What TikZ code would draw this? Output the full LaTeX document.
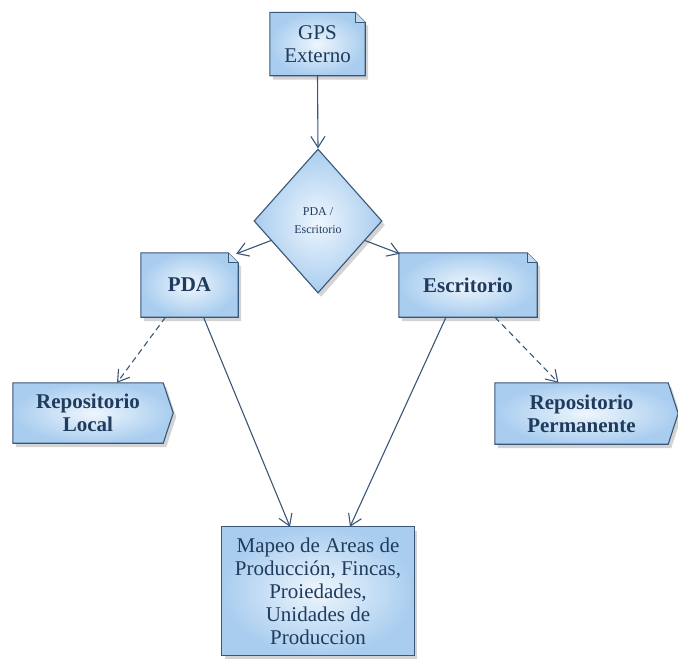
\documentclass[tikz,border=0pt]{standalone}
\usepackage{fontspec}
\setmainfont{Liberation Serif}
\usetikzlibrary{shapes.geometric,shadows,arrows.meta,calc,backgrounds}
\definecolor{edgeblue}{HTML}{3A5677}
\definecolor{textblue}{HTML}{1F3B5E}
\definecolor{fillout}{HTML}{A9CDEF}
\definecolor{fillin}{HTML}{EEF6FD}
\tikzset{
  shadebox/.style={draw=edgeblue, line width=1.1pt, inner color=fillin, outer color=fillout,
    drop shadow={shadow xshift=3pt, shadow yshift=-4pt, opacity=0.35, fill=gray}},
  txtnode/.style={draw=none, fill=none, inner sep=0pt, align=center, text=textblue},
  regtext/.style={font=\fontsize{21}{23}\selectfont},
  boldtext/.style={font=\fontsize{21}{23}\selectfont\bfseries},
  conn/.style={draw=edgeblue, line width=1.1pt, -{Straight Barb[length=11pt,width=14pt]}},
  dconn/.style={conn, dashed, dash pattern=on 6pt off 4pt}
}
\begin{document}
\begin{tikzpicture}[x=1pt,y=-1pt]
\useasboundingbox (0,0) rectangle (678,659);

% text nodes (named)
\node[txtnode, regtext, minimum width=95pt, minimum height=63pt] (gps) at (317.5,44) {GPS\\Externo};
\node[diamond, shadebox, minimum width=128pt, minimum height=144pt, inner sep=0pt, align=center,
  text=textblue, font=\fontsize{12}{18}\selectfont] (dia) at (318,221) {PDA /\\Escritorio};
\node[txtnode, boldtext, minimum width=97pt, minimum height=64pt] (pda) at (189.5,285) {PDA};
\node[txtnode, boldtext, minimum width=138pt, minimum height=64pt] (esc) at (468,285) {Escritorio};
\node[txtnode, boldtext, minimum width=150pt, minimum height=60pt] (rl) at (88,413) {Repositorio\\Local};
\node[txtnode, boldtext, minimum width=173pt, minimum height=61pt] (rp) at (581.5,413.5) {Repositorio\\Permanente};
\node[txtnode, regtext, minimum width=192pt, minimum height=128pt] (map) at (318,591) {Mapeo de Areas de\\Producción, Fincas,\\Proiedades,\\Unidades de\\Produccion};

\begin{pgfonlayer}{background}
% dog-ear boxes
\foreach \n in {gps,pda,esc}{
  \path[shadebox] (\n.south west) -- (\n.north west) -- ([xshift=-10pt]\n.north east)
     -- ([yshift=-10pt]\n.north east) -- (\n.south east) -- cycle;
  \draw[edgeblue, line width=1.1pt, fill=fillout!70, line join=round] ([xshift=-10pt]\n.north east) -- ([shift={(-10pt,-10pt)}]\n.north east) -- ([yshift=-10pt]\n.north east);
}
% signal boxes
\path[shadebox] (rl.south west) -- (rl.north west) -- (rl.north east) -- ([xshift=10pt]rl.east) -- (rl.south east) -- cycle;
\path[shadebox] (rp.south west) -- (rp.north west) -- (rp.north east) -- ([xshift=10pt]rp.east) -- (rp.south east) -- cycle;
% plain box
\path[shadebox] (map.south west) rectangle (map.north east);
\end{pgfonlayer}

% connectors
\draw[conn] (gps.south) -- (dia.north);
\draw[conn] ($(dia.west)!0.27!(dia.south)$) -- ([shift={(-2pt,-1pt)}]pda.north east);
\draw[conn] ($(dia.east)!0.27!(dia.south)$) -- ([shift={(1pt,-1pt)}]esc.north west);
\draw[dconn] ([xshift=-24pt]pda.south) -- ([xshift=29pt]rl.north);
\draw[conn] ([xshift=14pt]pda.south) -- ([xshift=-28pt]map.north);
\draw[conn] ([xshift=-22pt]esc.south) -- ([xshift=32pt]map.north);
\draw[dconn] ([xshift=27pt]esc.south) -- ([xshift=-23pt]rp.north);
\end{tikzpicture}
\end{document}
